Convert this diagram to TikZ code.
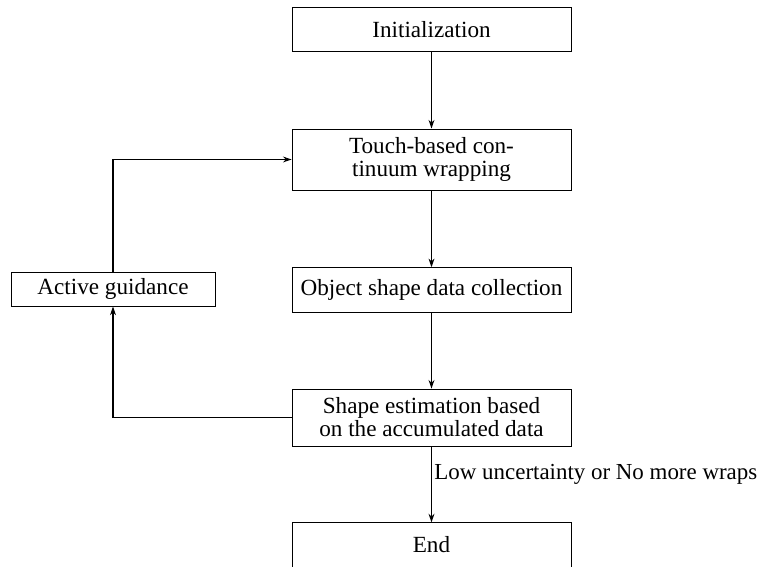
\documentclass[tikz,border=0pt]{standalone}
\usepackage{fontspec}
\setmainfont{Liberation Serif}
\usetikzlibrary{arrows.meta}
\begin{document}
\begin{tikzpicture}[x=0.4405pt,y=-0.4405pt,
  box/.style={draw, rectangle, inner sep=0pt, align=center, minimum width=122.9pt,
    font=\fontsize{10.2pt}{10.1pt}\selectfont},
  arr/.style={-{Stealth[length=3.8pt,width=2.6pt]}, line width=0.45pt},
  lbl/.style={inner sep=0pt, font=\fontsize{10.1pt}{10.1pt}\selectfont}]
\useasboundingbox (0,0) rectangle (758,567);
\node[box, minimum height=19.56pt] (init) at (431.5,29.7) {Initialization};
\node[box, minimum height=26.9pt] (touch) at (431.5,159.5) {Touch-based con-\\tinuum wrapping};
\node[box, minimum height=19.65pt] (obj) at (431.5,290) {Object shape data collection};
\node[box, minimum height=25.1pt] (est) at (431.5,417.5) {Shape estimation based\\on the accumulated data};
\node[box, minimum height=19.56pt] (end) at (431.5,545) {End};
\node[box, minimum width=89.9pt, minimum height=14.7pt] (act) at (113,289.4) {Active guidance};
\draw[arr] (init) -- (touch);
\draw[arr] (touch) -- (obj);
\draw[arr] (obj) -- (est);
\draw[arr] (est) -- (end);
\draw[arr] (est.west) -| (act.south);
\draw[arr] (act.north) |- (touch.west);
\node[lbl, anchor=base west] (cond) at (434,480) {Low uncertainty or No more wraps};
\end{tikzpicture}
\end{document}
